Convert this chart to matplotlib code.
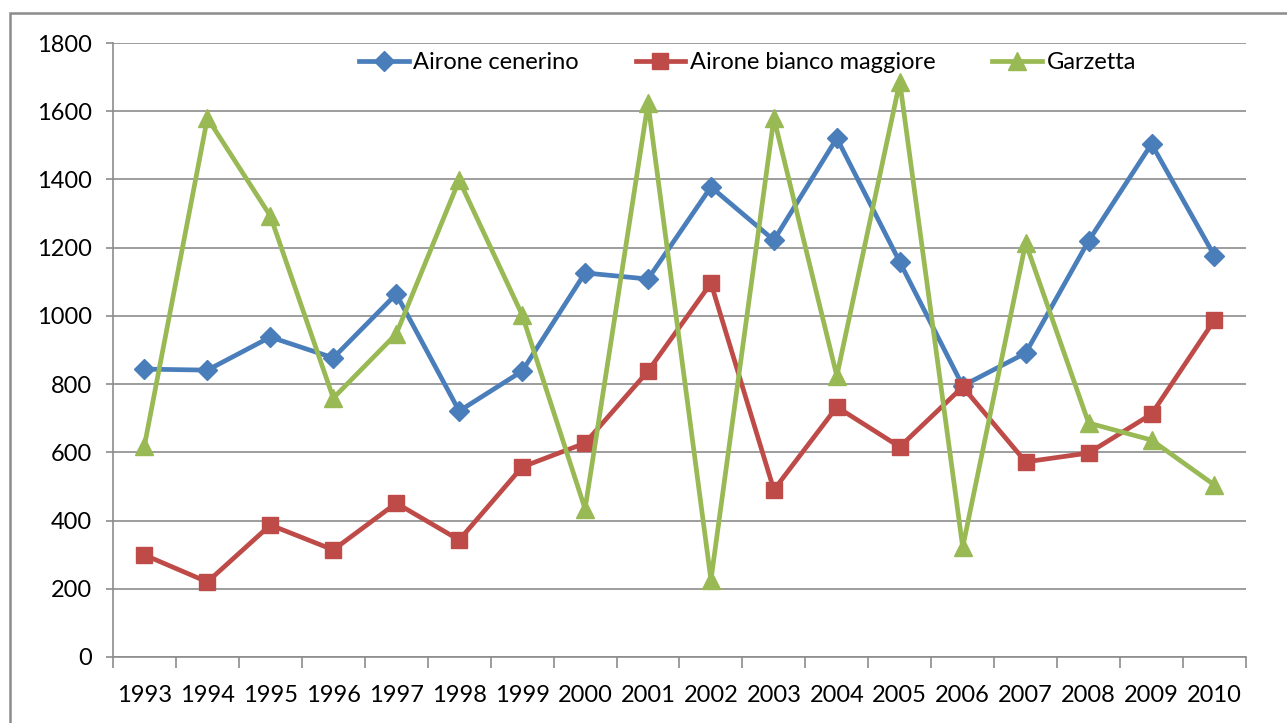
import matplotlib.pyplot as plt
from matplotlib.patches import Rectangle
from matplotlib.ticker import FixedLocator

plt.rcParams['font.family'] = ['Lato', 'DejaVu Sans']

years = ['1993', '1994', '1995', '1996', '1997', '1998', '1999', '2000', '2001',
         '2002', '2003', '2004', '2005', '2006', '2007', '2008', '2009', '2010']
airone_cenerino = [844, 841, 938, 877, 1064, 721, 838, 1126, 1108,
                   1378, 1222, 1521, 1158, 795, 891, 1220, 1504, 1176]
airone_bianco = [299, 220, 387, 314, 451, 343, 557, 627, 838,
                 1096, 490, 733, 616, 792, 572, 598, 712, 988]
garzetta = [620, 1580, 1293, 759, 947, 1398, 1003, 434, 1624,
            226, 1580, 824, 1686, 322, 1214, 686, 636, 504]

fig = plt.figure(figsize=(12.87, 7.23), dpi=100)
ax = fig.add_axes([0.0878, 0.0913, 0.8803, 0.8492])

# chart area border (only top/left visible in the crop)
fig.patches.append(Rectangle((10 / 1287, -0.1), 1.5, 1.1 - 13 / 723, transform=fig.transFigure,
                             fill=False, edgecolor='#8c8c8c', lw=1.8))

x = list(range(len(years)))
series = [
    (airone_cenerino, 'Airone cenerino', '#4A7EBB', 'D', 10),
    (airone_bianco, 'Airone bianco maggiore', '#BE4B48', 's', 12),
    (garzetta, 'Garzetta', '#98B954', '^', 13),
]
for vals, name, col, mk, ms in series:
    ax.plot(x, vals, color=col, lw=3.4, marker=mk, markersize=ms, label=name,
            solid_joinstyle='round')

ax.set_ylim(0, 1800)
ax.set_yticks(range(0, 1801, 200))
ax.set_xlim(-0.5, len(years) - 0.5)
ax.set_xticks(x)
ax.set_xticklabels(years)
ax.xaxis.set_minor_locator(FixedLocator([i - 0.5 for i in range(len(years) + 1)]))

ax.grid(axis='y', color='#8c8c8c', lw=1.2)
ax.set_axisbelow(True)
for s in ['top', 'right']:
    ax.spines[s].set_visible(False)
for s in ['left', 'bottom']:
    ax.spines[s].set_color('#8c8c8c')
    ax.spines[s].set_linewidth(1.2)

ax.tick_params(axis='y', length=5, width=1.2, color='#8c8c8c', labelsize=17, pad=10)
ax.tick_params(axis='x', which='major', length=0, labelsize=17, pad=20)
ax.tick_params(axis='x', which='minor', length=8, width=1.2, color='#8c8c8c')

ax.legend(loc='upper center', bbox_to_anchor=(0.56, 1.0), ncol=3, frameon=False,
          fontsize=17, handlelength=2.1, columnspacing=2.4, handletextpad=0.2,
          borderaxespad=0.0)

fig.savefig('out.png', dpi=100)
